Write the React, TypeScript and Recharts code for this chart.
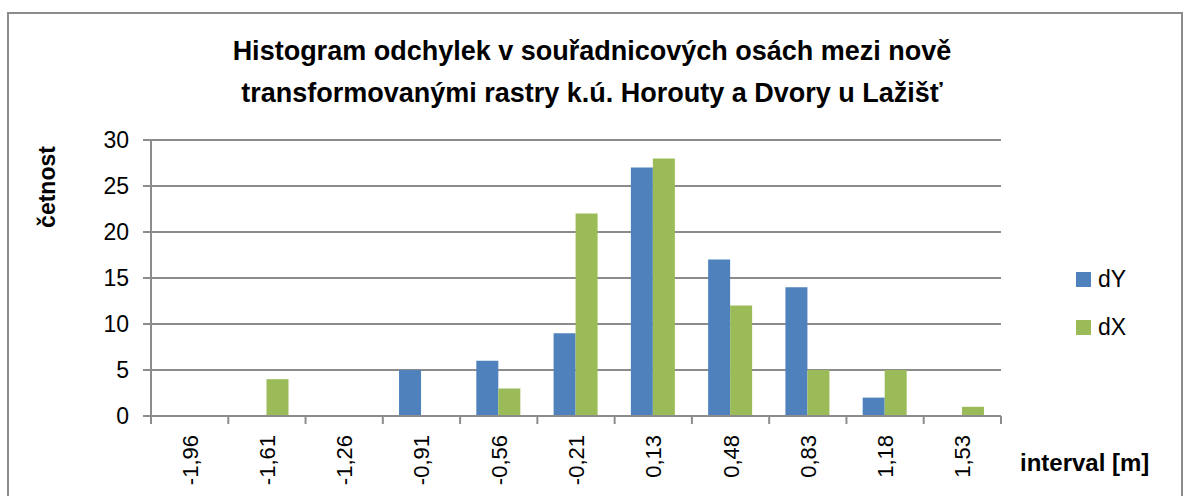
import { Bar, BarChart, CartesianGrid, XAxis, YAxis } from "recharts";

const intervals = ["-1,96", "-1,61", "-1,26", "-0,91", "-0,56", "-0,21", "0,13", "0,48", "0,83", "1,18", "1,53"];
const dY = [0, 0, 0, 5, 6, 9, 27, 17, 14, 2, 0];
const dX = [0, 4, 0, 0, 3, 22, 28, 12, 5, 5, 1];
const yTicks = [0, 5, 10, 15, 20, 25, 30];

const data = intervals.map((interval, i) => ({ interval, dY: dY[i], dX: dX[i] }));

const W = 1184;
const H = 496;
const PLOT_LEFT = 151;
const PLOT_RIGHT = 1001;
const PLOT_TOP = 140;
const PLOT_BOTTOM = 416;
const Y_AXIS_W = 60;
const X_AXIS_H = H - PLOT_BOTTOM;
const BAND = (PLOT_RIGHT - PLOT_LEFT) / intervals.length;

const GRID = "#8c8c8c";
const BLUE = "#4f81bd";
const GREEN = "#9bbb59";
const FONT = "'Liberation Sans', Arial, sans-serif";

function XTick(props: any) {
  const { x, y, payload, index } = props;
  const half = BAND / 2;
  const last = index === intervals.length - 1;
  return (
    <g>
      <line x1={x - half} x2={x - half} y1={y} y2={y + 8} stroke={GRID} strokeWidth={2} />
      {last && <line x1={x + half} x2={x + half} y1={y} y2={y + 8} stroke={GRID} strokeWidth={2} />}
      <text
        x={0}
        y={0}
        transform={`translate(${x + 8},${y + 19}) rotate(-90)`}
        textAnchor="end"
        fontSize={22}
        fontFamily={FONT}
        fill="#000"
      >
        {payload.value}
      </text>
    </g>
  );
}

const legendItems = [
  { name: "dY", color: BLUE },
  { name: "dX", color: GREEN },
];

export default function App() {
  return (
    <div
      style={{
        position: "absolute",
        left: 0,
        top: 0,
        width: W,
        height: H,
        overflow: "hidden",
        background: "#fff",
      }}
    >
      <div
        style={{
          position: "absolute",
          left: 7,
          top: 12,
          width: 1172,
          height: 600,
          border: "2px solid #8c8c8c",
        }}
      />
      <div
        style={{
          position: "absolute",
          left: 0,
          top: 30,
          width: W,
          textAlign: "center",
          fontFamily: FONT,
          fontWeight: "bold",
          fontSize: 27,
          lineHeight: "42px",
          color: "#000",
        }}
      >
        Histogram odchylek v souřadnicových osách mezi nově
        <br />
        transformovanými rastry k.ú. Horouty a Dvory u Lažišť
      </div>
      <div
        style={{
          position: "absolute",
          left: 47,
          top: 187,
          transform: "translate(-50%,-50%) rotate(-90deg)",
          fontFamily: FONT,
          fontWeight: "bold",
          fontSize: 23,
          whiteSpace: "nowrap",
        }}
      >
        četnost
      </div>
      <div
        style={{
          position: "absolute",
          left: 1020,
          top: 449,
          fontFamily: FONT,
          fontWeight: "bold",
          fontSize: 24,
          whiteSpace: "nowrap",
        }}
      >
        interval [m]
      </div>
      <div style={{ position: "absolute", left: 1076, top: 255, fontFamily: FONT, fontSize: 23 }}>
        {legendItems.map((it) => (
          <div key={it.name} style={{ display: "flex", alignItems: "center", height: 48 }}>
            <span style={{ width: 15, height: 15, background: it.color, marginRight: 7 }} />
            <span>{it.name}</span>
          </div>
        ))}
      </div>
      <BarChart
        width={W}
        height={H}
        data={data}
        barCategoryGap="21%"
        barGap={0}
        margin={{ top: PLOT_TOP, right: W - PLOT_RIGHT, left: PLOT_LEFT - Y_AXIS_W, bottom: 0 }}
        style={{ position: "absolute", left: 0, top: 0 }}
      >
        <CartesianGrid vertical={false} stroke={GRID} strokeWidth={2} />
        <XAxis
          dataKey="interval"
          height={X_AXIS_H}
          interval={0}
          tickLine={false}
          tickSize={0}
          tickMargin={0}
          axisLine={{ stroke: GRID, strokeWidth: 2 }}
          tick={<XTick />}
        />
        <YAxis
          width={Y_AXIS_W}
          domain={[0, 30]}
          ticks={yTicks}
          interval={0}
          tickSize={8}
          tickMargin={14}
          axisLine={{ stroke: GRID, strokeWidth: 2 }}
          tickLine={{ stroke: GRID, strokeWidth: 2 }}
          tick={{ fill: "#000", fontSize: 23, fontFamily: FONT }}
        />
        <Bar dataKey="dY" fill={BLUE} isAnimationActive={false} />
        <Bar dataKey="dX" fill={GREEN} isAnimationActive={false} />
      </BarChart>
    </div>
  );
}
